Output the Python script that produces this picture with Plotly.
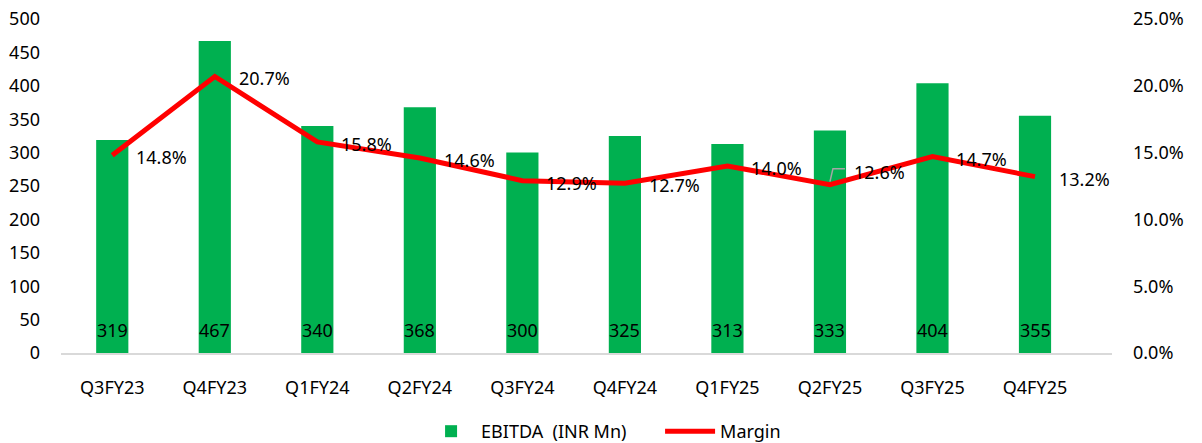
import plotly.graph_objects as go

categories = ["Q3FY23", "Q4FY23", "Q1FY24", "Q2FY24", "Q3FY24",
              "Q4FY24", "Q1FY25", "Q2FY25", "Q3FY25", "Q4FY25"]
ebitda = [319, 467, 340, 368, 300, 325, 313, 333, 404, 355]
margin = [14.8, 20.7, 15.8, 14.6, 12.9, 12.7, 14.0, 12.6, 14.7, 13.2]
left_ticks = [0, 50, 100, 150, 200, 250, 300, 350, 400, 450, 500]
right_ticks = [0, 5, 10, 15, 20, 25]

FONT = "Noto Sans"
GREEN = "#00B050"
RED = "#FF0000"

fig = go.Figure()
fig.add_trace(go.Bar(
    x=categories, y=ebitda, name="EBITDA\u00a0 (INR Mn)",
    marker=dict(color=GREEN, line=dict(width=0)),
    hoverinfo="skip",
))
fig.add_trace(go.Scatter(
    x=categories, y=margin, name="Margin", yaxis="y2",
    mode="lines", line=dict(color=RED, width=5),
    hoverinfo="skip",
))

annotations = []
for c, v in zip(categories, ebitda):
    annotations.append(dict(
        x=c, y=0, xref="x", yref="y", text=str(v), showarrow=False,
        yanchor="middle", xanchor="center", yshift=23,
        font=dict(family=FONT, size=18, color="#000000"),
    ))
shapes = []
for c, m in zip(categories, margin):
    # Q2FY25 label is lifted above the line with a leader line (as in the source)
    lifted = c == "Q2FY25"
    annotations.append(dict(
        x=c, y=m, xref="x", yref="y2", text=f"{m:.1f}%", showarrow=False,
        xanchor="left", yanchor="middle", xshift=22,
        yshift=13 if lifted else -2,
        font=dict(family=FONT, size=18, color="#000000"),
    ))
    if lifted:
        shapes.append(dict(
            type="path", xref="x", yref="y2",
            xsizemode="pixel", ysizemode="pixel", xanchor=c, yanchor=m,
            path="M 0,3 L 3,16 L 15,16",
            line=dict(color="#A6A6A6", width=1.5),
        ))

fig.update_layout(
    width=1202, height=443,
    margin=dict(l=61, r=90, t=19, b=90, autoexpand=False),
    paper_bgcolor="white", plot_bgcolor="white",
    font=dict(family=FONT, size=18, color="#000000"),
    bargap=0.686,
    showlegend=True,
    legend=dict(
        orientation="h", x=0.57, xanchor="center", y=-0.235, yanchor="middle",
        font=dict(family=FONT, size=18, color="#000000"),
        itemwidth=50, traceorder="normal",
        entrywidth=174, entrywidthmode="pixels",
    ),
    xaxis=dict(
        showline=True, linecolor="#D9D9D9", linewidth=1.5,
        showgrid=False, ticks="", ticklabelstandoff=18,
        tickfont=dict(family=FONT, size=18),
    ),
    yaxis=dict(
        range=[0, 500], tickvals=left_ticks, showgrid=False, zeroline=False,
        showline=False, ticks="", ticklabelstandoff=20,
        tickfont=dict(family=FONT, size=18),
    ),
    yaxis2=dict(
        range=[0, 25], tickvals=right_ticks,
        ticktext=[f"{t:.1f}%" for t in right_ticks],
        overlaying="y", side="right", showgrid=False, zeroline=False,
        showline=False, ticks="", ticklabelstandoff=20,
        tickfont=dict(family=FONT, size=18),
    ),
    annotations=annotations,
    shapes=shapes,
)

fig.write_html("out.html")
